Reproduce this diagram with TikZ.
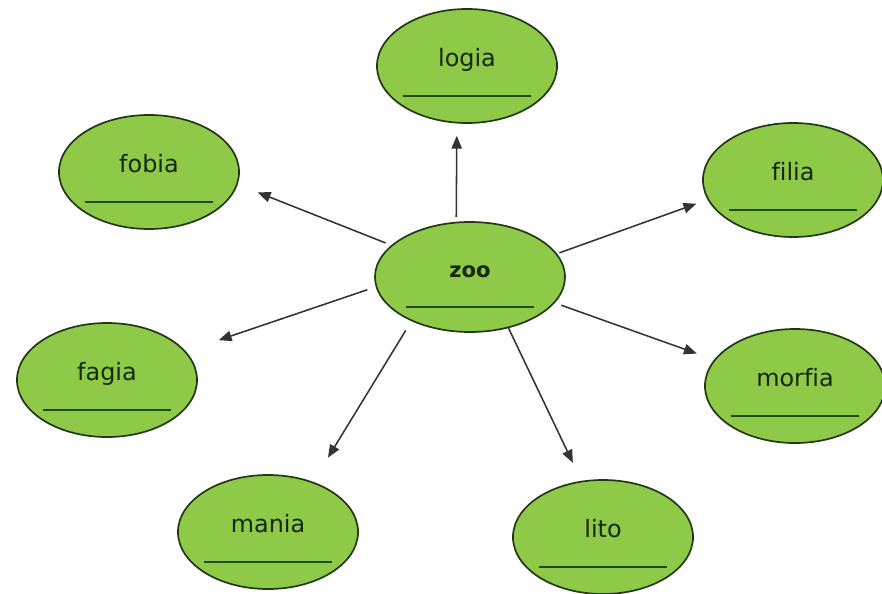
\documentclass[tikz,border=0pt]{standalone}
\usepackage{fontspec}
\setmainfont{DejaVu Sans}[Ligatures=NoCommon]
\usetikzlibrary{arrows,shapes.geometric}

\definecolor{leaf}{RGB}{142,201,72}
\definecolor{rim}{RGB}{35,55,20}
\definecolor{ink}{RGB}{22,40,12}
\definecolor{slot}{RGB}{30,75,20}

\tikzset{
  bubble/.style={ellipse, draw=rim, fill=leaf, line width=1.2pt, inner sep=0pt,
    minimum width=4.5cm, minimum height=2.85cm,
    text height=0.5cm, text depth=0.5cm, text=ink,
    font=\fontsize{17}{20}\selectfont,
    path picture={\draw[slot, line width=1.4pt]
      ([xshift=-1.6cm,yshift=-0.74cm]path picture bounding box.center) -- ++(3.2cm,0);}},
  hub/.style={bubble, minimum width=4.75cm, minimum height=2.75cm,
    font=\fontsize{15}{18}\selectfont\bfseries},
  link/.style={->, line width=1.1pt, draw=black!80}
}

\begin{document}
\begin{tikzpicture}[x=0.025cm, y=-0.025cm, >=triangle 45]
                \useasboundingbox (0,0) rectangle (882,593);
                \node[hub] (zoo) at (470, 277) {zoo};
                \node[bubble] (logia) at (467, 66) {logia};
                \node[bubble] (fobia) at (149, 172) {fobia};
                \node[bubble] (filia) at (793, 180) {filia};
                \node[bubble] (fagia) at (107, 380) {fagia};
                \node[bubble] (morfia) at (795, 386) {morfia};
                \node[bubble] (mania) at (268, 532) {mania};
                \node[bubble] (lito) at (603, 537) {lito};
                % arrows leave the hub and stop short of each bubble
                \draw[link, shorten <=0.12cm, shorten >=0.31cm] (zoo.104) -- (logia.260);
                \draw[link, shorten <=0.15cm, shorten >=0.54cm] (zoo.158) -- (fobia.352);
                \draw[link, shorten <=0.06cm, shorten >=0.30cm] (zoo.15) -- (filia.193);
                \draw[link, shorten <=0.22cm, shorten >=0.87cm] (zoo.186) -- (fagia.20);
                \draw[link, shorten <=0.17cm, shorten >=0.46cm] (zoo.343) -- (morfia.162);
                \draw[link, shorten <=0.27cm, shorten >=0.71cm] (zoo.217) -- (mania.48);
                \draw[link, shorten >=0.50cm] (zoo.307) -- (lito.111);
            \end{tikzpicture}
\end{document}
